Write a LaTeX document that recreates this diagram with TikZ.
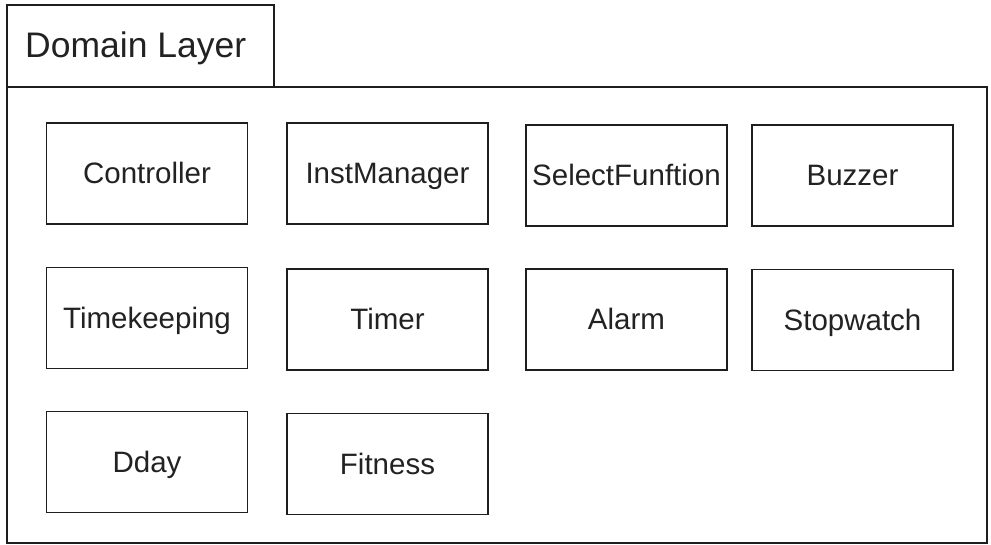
\documentclass[tikz,border=0pt]{standalone}
\usepackage{fontspec}
\setmainfont{Liberation Sans}
\definecolor{edge}{HTML}{1E1E1E}
\definecolor{ink}{HTML}{222222}
\begin{document}
\begin{tikzpicture}[x=1pt,y=-1pt,
  frameline/.style={draw=edge,line width=2.6pt},
  classbox/.style={draw=edge,line width=1.5pt,fill=white,
    minimum width=201pt,minimum height=101pt,inner sep=0pt,
    text height=21pt,text depth=0pt,
    text=ink,font=\fontsize{29.5}{32}\selectfont},
  layertitle/.style={anchor=west,inner sep=0pt,text=ink,
    text height=25pt,text depth=0pt,
    font=\fontsize{35.5}{38}\selectfont}]
  \useasboundingbox (0,0) rectangle (991,545);
  % package frame: tab and body
  \path[frameline,fill=white] (7,87) rectangle (987,543);
  \path[frameline,fill=white] (7,5) rectangle (274,87);
  \node[layertitle] (title) at (25,45.5) {Domain Layer};
  % classes of the layer
  \node[classbox] (controller) at (147,173.5) {Controller};
  \node[classbox] (instmanager) at (387.5,173.5) {InstManager};
  \node[classbox] (selectfn) at (626.5,175.5) {SelectFunftion};
  \node[classbox] (buzzer) at (852.5,175.5) {Buzzer};
  \node[classbox] (timekeeping) at (147,318) {Timekeeping};
  \node[classbox] (timer) at (387.5,319.5) {Timer};
  \node[classbox] (alarm) at (626.5,319.5) {Alarm};
  \node[classbox] (stopwatch) at (852.5,320) {Stopwatch};
  \node[classbox] (dday) at (147,462) {Dday};
  \node[classbox] (fitness) at (387.5,464) {Fitness};
\end{tikzpicture}
\end{document}
